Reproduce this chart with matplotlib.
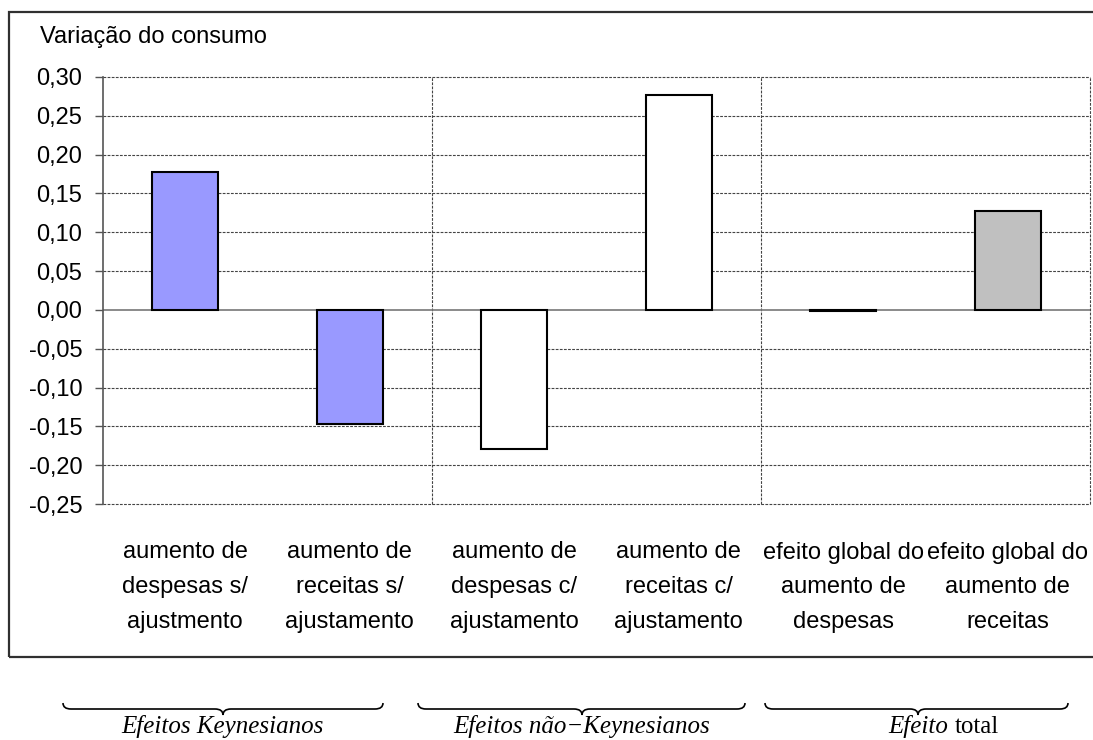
import matplotlib.pyplot as plt
import matplotlib.patches as mpatches
from matplotlib.path import Path

W, H = 1093, 740

# data
categorias = ['aumento de\ndespesas s/\najustmento',
              'aumento de\nreceitas s/\najustamento',
              'aumento de\ndespesas c/\najustamento',
              'aumento de\nreceitas c/\najustamento',
              'efeito global do\naumento de\ndespesas',
              'efeito global do\naumento de\nreceitas']
valores = [0.177, -0.147, -0.179, 0.277, -0.002, 0.128]
cores = ['#9999ff', '#9999ff', 'white', 'white', 'white', '#c0c0c0']
yticks = [0.30, 0.25, 0.20, 0.15, 0.10, 0.05, 0.0, -0.05, -0.10, -0.15, -0.20, -0.25]
grupos = ['Efeitos Keynesianos', 'Efeitos não\u2212Keynesianos']

plt.rcParams['font.family'] = ['Liberation Sans', 'DejaVu Sans']

fig = plt.figure(figsize=(W / 100, H / 100), dpi=100)

def px(x, y):
    return (x / W, 1 - y / H)

# outer frame (right edge cut off in the original)
fig.patches.append(mpatches.Rectangle(px(9, 657), (1110 - 9) / W, (657 - 12) / H,
                                      transform=fig.transFigure, fill=False,
                                      edgecolor='#303030', lw=1.6))

ax = fig.add_axes([103 / W, 1 - 504 / H, (1090 - 103) / W, (504 - 77) / H])
x = range(len(valores))
ax.bar(x, valores, width=0.4, color=cores, edgecolor='black', lw=1.5, zorder=3)

ax.set_xlim(-0.5, 5.5)
ax.set_ylim(-0.25, 0.30)
ax.set_yticks(yticks)
ax.set_yticklabels([('%.2f' % v).replace('.', ',') for v in yticks], fontsize=17)
ax.set_xticks(list(x))
ax.set_xticklabels(categorias, fontsize=17, linespacing=1.75)
ax.tick_params(axis='x', length=0, pad=27)
ax.tick_params(axis='y', length=6, width=1, color='#555555', pad=9)

for s in ['top', 'right', 'bottom']:
    ax.spines[s].set_visible(False)
ax.spines['left'].set_color('#555555')
ax.spines['left'].set_linewidth(1.2)

for v in yticks:
    if v != 0:
        ax.axhline(v, color='#444444', lw=0.8, ls=(0, (2.5, 1.2)), zorder=1, clip_on=False)
ax.axhline(0, color='#777777', lw=1.2, zorder=2)
for xv in [1.5, 3.5, 5.5]:
    ax.axvline(xv, color='#444444', lw=0.8, ls=(0, (2.5, 1.2)), zorder=1, clip_on=False)

fig.text(40 / W, 1 - 37 / H, 'Variação do consumo', fontsize=17, va='center', ha='left')

# braces under the chart
def chaveta(x0, x1, xm, y=709, h=6, d=6, r=8):
    verts = [px(x0, y - h), px(x0, y), px(x0 + r, y),
             px(xm - r, y), px(xm, y), px(xm, y + d),
             px(xm, y), px(xm + r, y),
             px(x1 - r, y), px(x1, y), px(x1, y - h)]
    codes = [Path.MOVETO, Path.CURVE3, Path.CURVE3,
             Path.LINETO, Path.CURVE3, Path.CURVE3,
             Path.CURVE3, Path.CURVE3,
             Path.LINETO, Path.CURVE3, Path.CURVE3]
    fig.patches.append(mpatches.PathPatch(Path(verts, codes), transform=fig.transFigure,
                                          fill=False, edgecolor='black', lw=1.2))

chaveta(63, 383, 223)
chaveta(418, 745, 582)
chaveta(765, 1068, 918)

serif = ['Liberation Serif', 'DejaVu Serif']
fig.text(*px(222, 727), grupos[0], family=serif, style='italic', fontsize=18, ha='center', va='center')
fig.text(*px(582, 727), grupos[1], family=serif, style='italic', fontsize=18, ha='center', va='center')
fig.text(*px(948, 727), 'Efeito', family=serif, style='italic', fontsize=18, ha='right', va='center')
fig.text(*px(955, 727), 'total', family=serif, fontsize=18, ha='left', va='center')

fig.savefig('out.png', dpi=100, facecolor='white')
